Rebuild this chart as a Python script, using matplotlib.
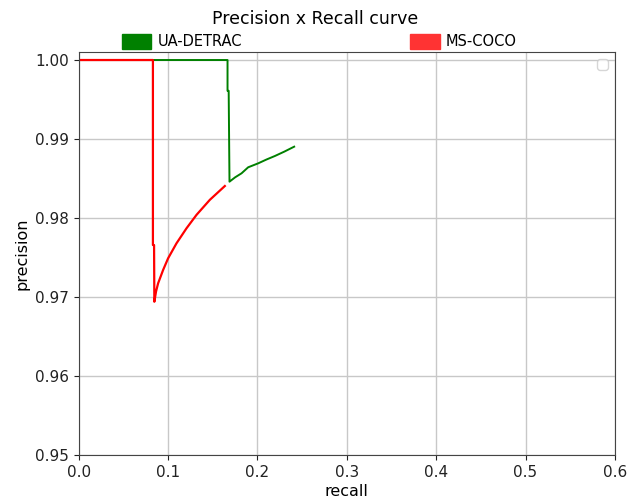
import matplotlib
matplotlib.use("Agg")
import matplotlib.pyplot as plt
import matplotlib.patches as mpatches

# UA-DETRAC curve (recall, precision)
detrac_recall = [0.0, 0.1665, 0.1665, 0.1678, 0.1678, 0.1687, 0.1750, 0.1822, 0.1896, 0.2008, 0.2100, 0.2195, 0.2300, 0.2411]
detrac_precision = [1.0, 1.0, 0.9961, 0.9961, 0.9960, 0.9846, 0.98515, 0.98566, 0.98642, 0.98692, 0.98740, 0.98785, 0.98840, 0.98903]

# MS-COCO curve (recall, precision)
coco_recall = [0.0, 0.0830, 0.0830, 0.0843, 0.0843, 0.0846, 0.0865, 0.0888, 0.0944, 0.1000, 0.1094, 0.1206, 0.1318, 0.1467, 0.1635]
coco_precision = [1.0, 1.0, 0.97658, 0.97658, 0.9764, 0.9694, 0.9707, 0.97173, 0.97342, 0.9749, 0.9768, 0.9787, 0.9804, 0.9823, 0.98405]

labels = ["UA-DETRAC", "MS-COCO"]
colors = ["green", "#ff3333"]

fig = plt.figure(figsize=(6.3, 5.03), dpi=100)
ax = fig.add_axes([0.125, 0.0954, 0.851, 0.801])

ax.plot(detrac_recall, detrac_precision, color="green", lw=1.4)
ax.plot(coco_recall, coco_precision, color="red", lw=1.6)

ax.set_xlim(0, 0.6)
ax.set_ylim(0.95, 1.001)
ax.set_xticks([0.0, 0.1, 0.2, 0.3, 0.4, 0.5, 0.6])
ax.set_yticks([0.95, 0.96, 0.97, 0.98, 0.99, 1.00])
ax.set_yticklabels(["0.95", "0.96", "0.97", "0.98", "0.99", "1.00"])
ax.grid(True, color="#c8c8c8", lw=1)
ax.set_axisbelow(True)
for s in ax.spines.values():
    s.set_color("#444444")
ax.tick_params(labelsize=11, colors="#222222")
ax.set_xlabel("recall", fontsize=11.5, labelpad=3)
ax.set_ylabel("precision", fontsize=11.5)

# empty legend box in upper right
ax.legend(handles=[], loc="upper right")

handles = [mpatches.Patch(color=c, label=l) for c, l in zip(colors, labels)]
fig.legend(handles=handles, loc="lower left", ncol=2, mode="expand",
           bbox_to_anchor=(0.184, 0.89, 0.646, 0.05), frameon=False,
           fontsize=10.5, handlelength=2.0, handleheight=1.15,
           handletextpad=0.45, borderaxespad=0)

fig.suptitle("Precision x Recall curve", fontsize=12.5, y=0.98)

fig.savefig("out.png", dpi=100)
